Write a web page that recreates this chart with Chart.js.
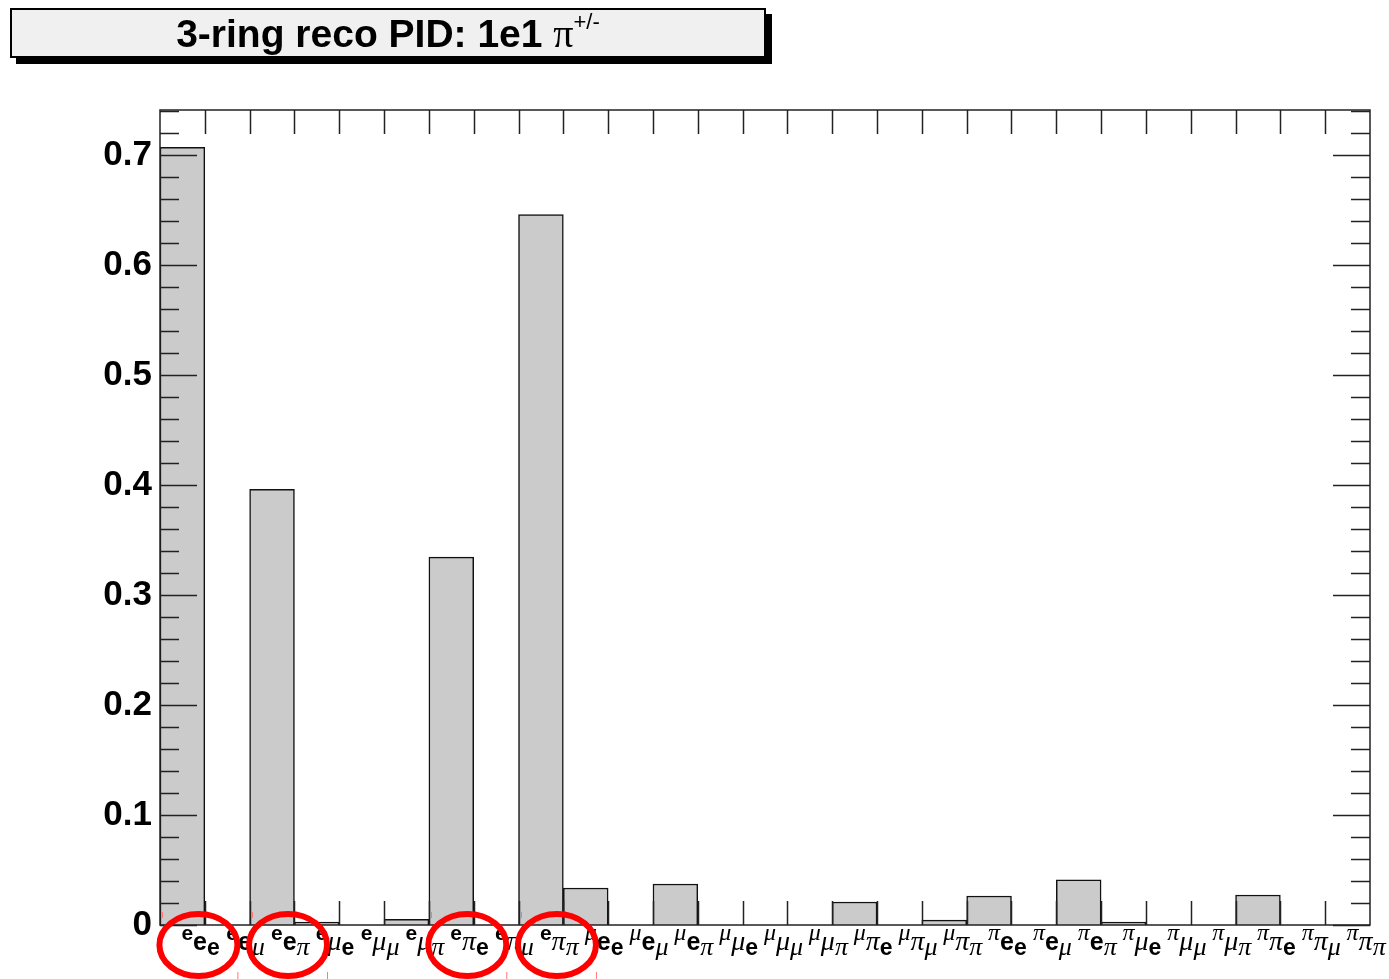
<!DOCTYPE html>
<html>
<head>
<meta charset="utf-8">
<script src="https://cdn.jsdelivr.net/npm/chart.js@4.4.1/dist/chart.umd.min.js"></script>
<style>
  body { margin: 0; background: #fff; }
  #wrap { position: relative; width: 1389px; height: 979px; }
  #title {
    position: absolute; left: 10px; top: 8px; width: 752px; height: 46px;
    background: #f0f0f0; border: 2px solid #000; box-shadow: 6px 6px 0 #000;
    font: bold 39px "Liberation Sans", Arial, sans-serif; text-align: center;
    line-height: 46px; color: #000;
  }
  #title .pi { font: normal 40px "Liberation Serif", serif; }
  #title sup { font: normal 22px "Liberation Sans", sans-serif; position: relative; top: -4px; }
</style>
</head>
<body>
<div id="wrap">
  <canvas id="chart" width="1389" height="979"></canvas>
  <div id="title">3-ring reco PID: 1e1 <span class="pi">π</span><sup>+/-</sup></div>
</div>
<script>
// bins: reco PID of the three rings
const labels = ['eee', 'eeμ', 'eeπ', 'eμe', 'eμμ', 'eμπ', 'eπe', 'eπμ', 'eππ',
                'μee', 'μeμ', 'μeπ', 'μμe', 'μμμ', 'μμπ', 'μπe', 'μπμ', 'μππ',
                'πee', 'πeμ', 'πeπ', 'πμe', 'πμμ', 'πμπ', 'ππe', 'ππμ', 'πππ'];
const fractions = [0.707, 0, 0.396, 0.0027, 0, 0.0052, 0.3345, 0, 0.646,
                   0.0336, 0, 0.0373, 0, 0, 0, 0.0209, 0, 0.0045,
                   0.0264, 0, 0.041, 0.0027, 0, 0, 0.0273, 0, 0];
const yTicks = [0, 0.1, 0.2, 0.3, 0.4, 0.5, 0.6, 0.7];
const circled = ['eee', 'eeπ', 'eπe', 'eππ'];

// ROOT style frame, ticks, labels and the red marks
const rootStyle = {
    id: 'rootStyle',
    afterDraw(chart) {
        const ctx = chart.ctx;
        const a = chart.chartArea;
        const x = chart.scales.x;
        const y = chart.scales.y;
        ctx.save();
        ctx.strokeStyle = '#222';
        ctx.lineWidth = 1.5;
        ctx.strokeRect(a.left, a.top, a.right - a.left, a.bottom - a.top);

        // x ticks at bin edges, top and bottom
        ctx.beginPath();
        for (let i = 1; i < labels.length; i++) {
            const px = Math.round(x.getPixelForValue(i - 0.5)) + 0.5;
            ctx.moveTo(px, a.bottom); ctx.lineTo(px, a.bottom - 24);
            ctx.moveTo(px, a.top); ctx.lineTo(px, a.top + 24);
        }
        // y ticks, major every 0.1, minor every 0.02
        for (let k = 0; k * 0.02 <= y.max + 1e-9; k++) {
            const py = Math.round(y.getPixelForValue(k * 0.02)) + 0.5;
            const len = k % 5 === 0 ? 37 : 19;
            ctx.moveTo(a.left, py); ctx.lineTo(a.left + len, py);
            ctx.moveTo(a.right, py); ctx.lineTo(a.right - len, py);
        }
        ctx.stroke();

        // bin labels: superscript, normal, subscript
        ctx.fillStyle = '#000';
        ctx.textBaseline = 'alphabetic';
        ctx.textAlign = 'left';
        const sizes = [21, 25, 23];
        const base = [940, 950, 955];
        labels.forEach((lab, i) => {
            let px = x.getPixelForValue(i) - 1;
            [...lab].forEach((ch, k) => {
                if (ch === 'e') ctx.font = 'bold ' + sizes[k] + 'px "Liberation Sans", sans-serif';
                else ctx.font = 'italic ' + (sizes[k] + 3) + 'px "Liberation Serif", serif';
                ctx.fillText(ch, px, base[k]);
                px += ctx.measureText(ch).width;
            });
        });

        // red annotations
        circled.forEach(lab => {
            const i = labels.indexOf(lab);
            const cx = x.getPixelForValue(i) + 16;
            ctx.strokeStyle = '#f00';
            ctx.lineWidth = 6;
            ctx.beginPath();
            ctx.ellipse(cx, 945, 39, 31, 0, 0, Math.PI * 2);
            ctx.stroke();
            ctx.strokeStyle = '#f77';
            ctx.lineWidth = 1;
            const left = Math.round(x.getPixelForValue(i - 0.5)) + 2.5;
            ctx.beginPath();
            ctx.moveTo(left, 912); ctx.lineTo(left, 918);
            ctx.moveTo(cx + 39.5, 972); ctx.lineTo(cx + 39.5, 979);
            ctx.stroke();
        });
        ctx.restore();
    }
};

new Chart(document.getElementById('chart'), {
    type: 'bar',
    data: {
        labels: labels,
        datasets: [{
            data: fractions,
            backgroundColor: '#cbcbcb',
            borderColor: '#111',
            borderWidth: 1.5,
            categoryPercentage: 1.0,
            barPercentage: 1.0
        }]
    },
    options: {
        responsive: false,
        animation: false,
        layout: { padding: { top: 110, right: 19, left: 0, bottom: 0 } },
        plugins: { legend: { display: false }, tooltip: { enabled: false } },
        scales: {
            x: {
                grid: { display: false, drawTicks: false },
                border: { display: false },
                ticks: { display: false },
                afterFit: s => { s.height = 54; }
            },
            y: {
                min: 0,
                max: 0.741,
                grid: { display: false, drawTicks: false },
                border: { display: false },
                afterBuildTicks: s => { s.ticks = yTicks.map(v => ({ value: v })); },
                afterFit: s => { s.width = 160; },
                ticks: {
                    padding: 8,
                    color: '#000',
                    font: { family: '"Liberation Sans", Arial, sans-serif', size: 35, weight: 'bold' },
                    callback: v => v === 0 ? '0' : v.toFixed(1)
                }
            }
        }
    },
    plugins: [rootStyle]
});
</script>
</body>
</html>
